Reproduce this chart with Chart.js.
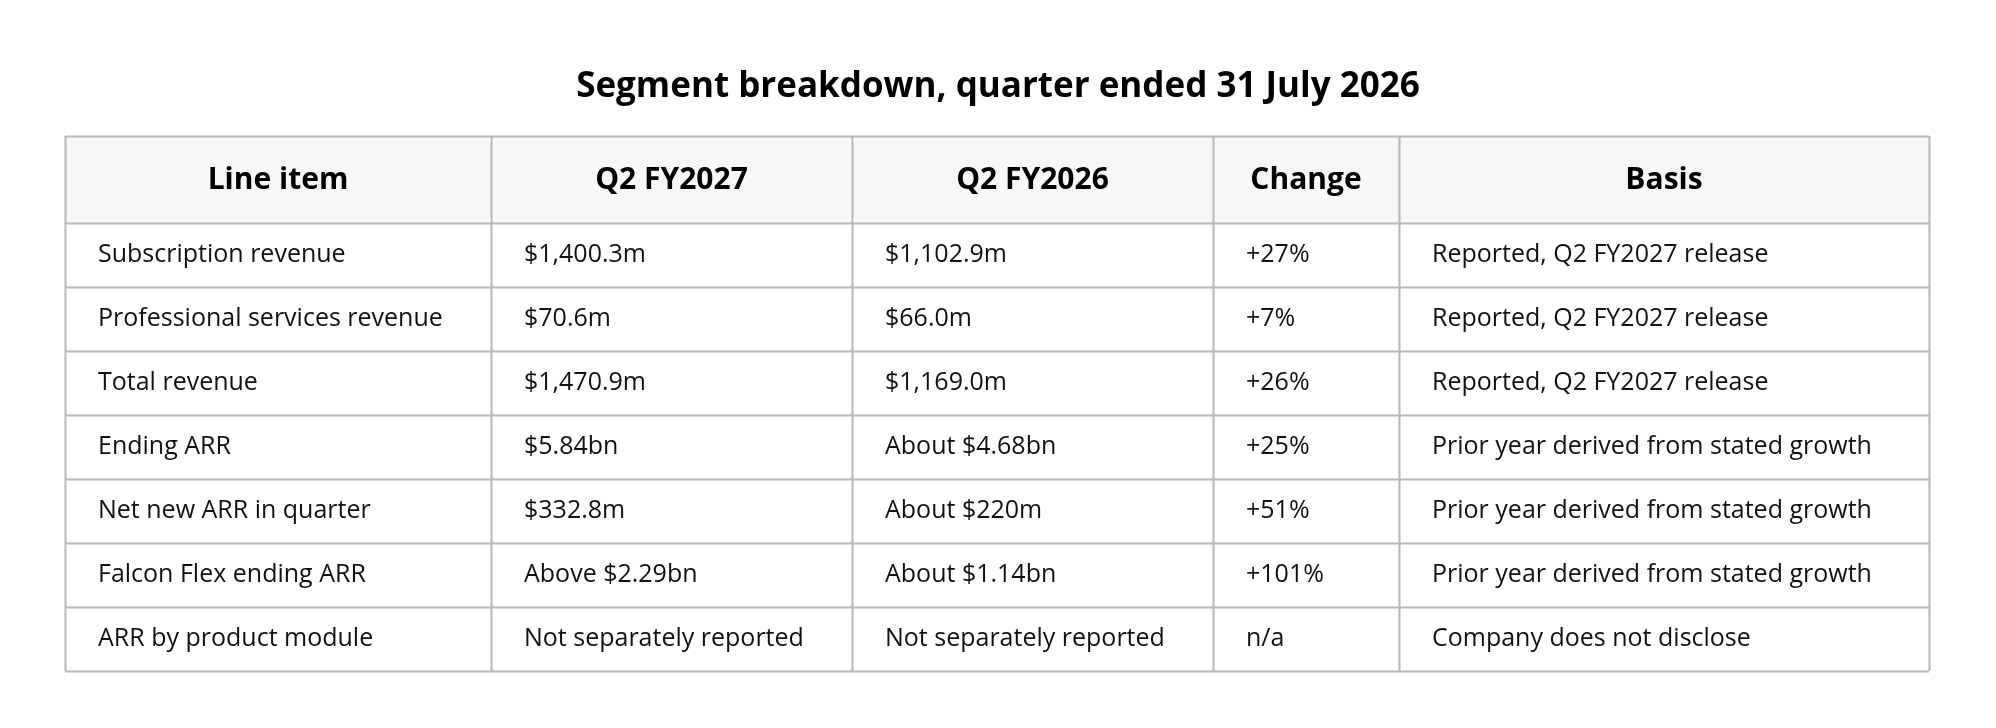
<!DOCTYPE html>
<html>
<head>
<meta charset="utf-8">
<script src="https://cdn.jsdelivr.net/npm/chart.js@4"></script>
<style>
  html, body { margin: 0; padding: 0; background: #fff; }
  #wrap { width: 1996px; height: 728px; }
</style>
</head>
<body>
<div id="wrap"><canvas id="table-chart" width="1996" height="728"></canvas></div>
<script>
// Table content
const columns = ['Line item', 'Q2 FY2027', 'Q2 FY2026', 'Change', 'Basis'];
const lineItems = ['Subscription revenue', 'Professional services revenue', 'Total revenue', 'Ending ARR',
    'Net new ARR in quarter', 'Falcon Flex ending ARR', 'ARR by product module'];
const currentQuarter = ['$1,400.3m', '$70.6m', '$1,470.9m', '$5.84bn', '$332.8m', 'Above $2.29bn', 'Not separately reported'];
const priorQuarter = ['$1,102.9m', '$66.0m', '$1,169.0m', 'About $4.68bn', 'About $220m', 'About $1.14bn', 'Not separately reported'];
const changes = ['+27%', '+7%', '+26%', '+25%', '+51%', '+101%', 'n/a'];
const basis = ['Reported, Q2 FY2027 release', 'Reported, Q2 FY2027 release', 'Reported, Q2 FY2027 release',
    'Prior year derived from stated growth', 'Prior year derived from stated growth',
    'Prior year derived from stated growth', 'Company does not disclose'];
const titleText = 'Segment breakdown, quarter ended 31 July 2026';

const rows = lineItems.map((item, i) => [item, currentQuarter[i], priorQuarter[i], changes[i], basis[i]]);

// layout units: column edges on x, row edges on y (header is taller)
const colEdges = [0, 426, 787, 1148, 1334, 1864];
const headerUnits = 1.36;
const totalUnits = headerUnits + rows.length;

const FONT = '"Open Sans", "Noto Sans", sans-serif';
const GRID = '#b8b8b8';

const tablePlugin = {
    id: 'tableDraw',
    afterDraw(chart) {
        const ctx = chart.ctx;
        const xs = chart.scales.x, ys = chart.scales.y;
        const X = v => xs.getPixelForValue(v);
        const Y = v => ys.getPixelForValue(v);
        const left = X(colEdges[0]), right = X(colEdges[colEdges.length - 1]);
        const top = Y(0), bottom = Y(totalUnits);

        ctx.save();
        // title
        ctx.fillStyle = '#000';
        ctx.font = 'bold 35px ' + FONT;
        ctx.textAlign = 'center';
        ctx.textBaseline = 'middle';
        ctx.fillText(titleText, chart.width / 2, 87);

        // header background
        ctx.fillStyle = '#f7f7f7';
        ctx.fillRect(left, top, right - left, Y(headerUnits) - top);

        // header text
        ctx.fillStyle = '#000';
        ctx.font = 'bold 30px ' + FONT;
        columns.forEach((c, j) => {
            ctx.fillText(c, (X(colEdges[j]) + X(colEdges[j + 1])) / 2, (top + Y(headerUnits)) / 2 + 1);
        });

        // body text
        ctx.font = '25px ' + FONT;
        ctx.textAlign = 'left';
        ctx.fillStyle = '#111';
        rows.forEach((r, i) => {
            const yc = (Y(headerUnits + i) + Y(headerUnits + i + 1)) / 2;
            r.forEach((cell, j) => ctx.fillText(cell, X(colEdges[j]) + 33, yc));
        });

        // grid lines
        ctx.strokeStyle = GRID;
        ctx.lineWidth = 2;
        ctx.beginPath();
        for (let i = 0; i <= rows.length; i++) {
            const y = Math.round(Y(headerUnits + i)) + 0.5;
            ctx.moveTo(left, y); ctx.lineTo(right, y);
        }
        ctx.moveTo(left, Math.round(top) + 0.5); ctx.lineTo(right, Math.round(top) + 0.5);
        colEdges.forEach(e => {
            const x = Math.round(X(e)) + 0.5;
            ctx.moveTo(x, top); ctx.lineTo(x, bottom);
        });
        ctx.stroke();
        ctx.restore();
    }
};

new Chart(document.getElementById('table-chart'), {
    type: 'scatter',
    data: { datasets: [{ data: [], pointRadius: 0 }] },
    options: {
        responsive: false,
        animation: false,
        layout: { padding: { left: 65, right: 67, top: 136, bottom: 57 } },
        plugins: { legend: { display: false }, tooltip: { enabled: false }, title: { display: false } },
        scales: {
            x: { type: 'linear', min: colEdges[0], max: colEdges[colEdges.length - 1], display: false },
            y: { type: 'linear', min: 0, max: totalUnits, reverse: true, display: false }
        }
    },
    plugins: [tablePlugin]
});
</script>
</body>
</html>
